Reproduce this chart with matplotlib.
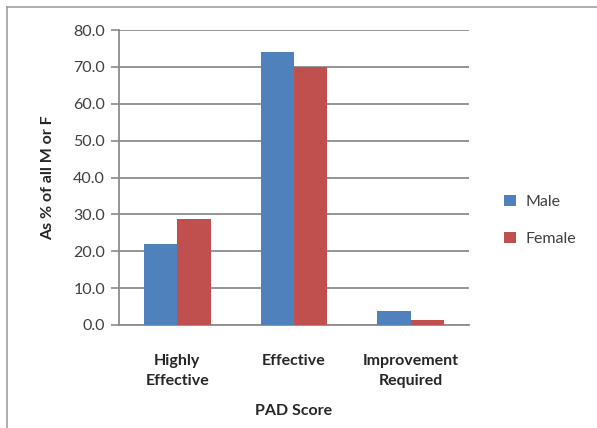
import numpy as np
import matplotlib
matplotlib.use("Agg")
import matplotlib.pyplot as plt
from matplotlib.lines import Line2D

# --------------------------------------------------
# Data
# --------------------------------------------------
categories = ["Highly\nEffective", "Effective", "Improvement\nRequired"]
male = [22.0, 74.0, 3.8]
female = [28.8, 69.9, 1.4]
y_ticks = [0, 10, 20, 30, 40, 50, 60, 70, 80]

blue = "#4F81BD"
red = "#C0504D"
grid_col = "#8C8C8C"

plt.rcParams["font.family"] = ["Lato", "DejaVu Sans"]

fig = plt.figure(figsize=(5.97, 4.28), dpi=100)
ax = fig.add_axes([119 / 597, 1 - 325 / 428, 350 / 597, 295 / 428])

x = np.arange(len(categories))
w = 0.285
ax.bar(x - w / 2, male, w, color=blue, label="Male", zorder=3)
ax.bar(x + w / 2, female, w, color=red, label="Female", zorder=3)

ax.set_xlim(-0.5, 2.5)
ax.set_ylim(0, 80)
ax.set_yticks(y_ticks)
ax.set_yticklabels([f"{v:.1f}" for v in y_ticks], fontsize=11.5, color="#404040")
ax.set_xticks(x)
ax.set_xticklabels(categories, fontsize=11.5, fontweight="bold", color="#262626",
                   linespacing=1.5)
ax.tick_params(axis="x", length=0, pad=21)
ax.tick_params(axis="y", length=6, width=1.2, color=grid_col, pad=4)

ax.yaxis.grid(True, color=grid_col, linewidth=1.3, zorder=0)
ax.set_axisbelow(True)
for s in ["top", "right"]:
    ax.spines[s].set_visible(False)
ax.spines["left"].set_color(grid_col)
ax.spines["left"].set_linewidth(1.3)
ax.spines["bottom"].set_color(grid_col)
ax.spines["bottom"].set_linewidth(1.3)

ax.set_ylabel("As % of all M or F", fontsize=11.5, fontweight="bold", color="#262626",
              labelpad=13)
ax.set_xlabel("PAD Score", fontsize=11.5, fontweight="bold", color="#262626", labelpad=12)

leg = ax.legend(loc="center left", bbox_to_anchor=(1.06, 0.355), frameon=False,
                fontsize=11.5, handlelength=0.7, handleheight=0.7, labelspacing=1.45,
                handletextpad=0.6)
for t in leg.get_texts():
    t.set_color("#404040")

# outer frame lines (left and top)
fig.add_artist(Line2D([7 / 597, 7 / 597], [0, 1 - 7 / 428], color="#A0A0A0", lw=1.2))
fig.add_artist(Line2D([7 / 597, 1], [1 - 7 / 428, 1 - 7 / 428], color="#A0A0A0", lw=1.2))

fig.savefig("out.png", dpi=100)
